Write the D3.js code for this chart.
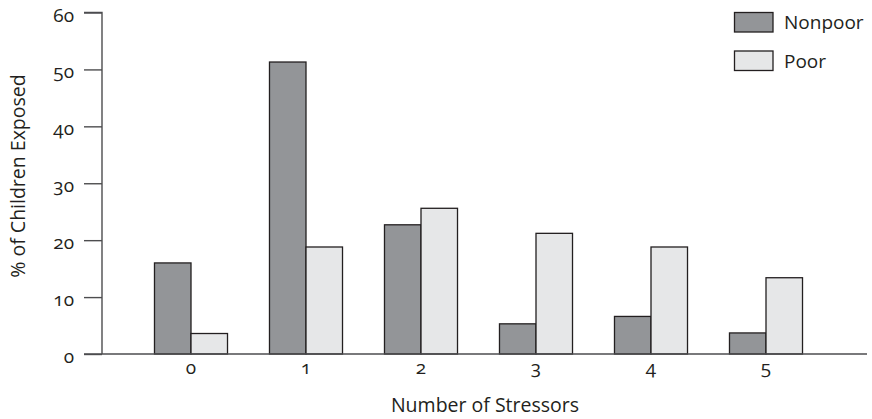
<!DOCTYPE html>
<html><head><meta charset="utf-8">
<script src="https://cdn.jsdelivr.net/npm/d3@7"></script>
<style>
html,body{margin:0;padding:0;background:#fff;}
svg text{font-family:"Open Sans",sans-serif;fill:#231f20;font-feature-settings:"onum" 1;font-variant-numeric:oldstyle-nums;}
</style></head>
<body><svg id="chart" width="872" height="419"></svg>
<script>
const categories = ["0","1","2","3","4","5"];
const seriesNames = ["Nonpoor","Poor"];
const nonpoor = [16.0, 51.3, 22.7, 5.3, 6.6, 3.7];
const poor = [3.6, 18.8, 25.6, 21.2, 18.8, 13.4];
const yTicks = [0,10,20,30,40,50,60];
const colors = {Nonpoor:"#939598", Poor:"#e6e7e8"};

const svg = d3.select("#chart");
const stroke = "#231f20";
const y = d3.scaleLinear().domain([0,60]).range([354,12.5]);
const x0 = d3.scaleBand().domain(categories).range([133.5,823.5]).paddingInner(0.365).paddingOuter(0.1825);
const x1 = d3.scaleBand().domain(seriesNames).range([0,x0.bandwidth()]);

const rows = categories.map((c,i)=>({cat:c, vals:[{s:"Nonpoor",v:nonpoor[i]},{s:"Poor",v:poor[i]}]}));

// bars
const g = svg.append("g");
g.selectAll("g.cat").data(rows).join("g").attr("class","cat")
 .attr("transform",d=>`translate(${x0(d.cat)},0)`)
 .selectAll("rect").data(d=>d.vals).join("rect")
 .attr("x",d=>x1(d.s)).attr("width",x1.bandwidth())
 .attr("y",d=>y(d.v)).attr("height",d=>y(0)-y(d.v))
 .attr("fill",d=>colors[d.s]).attr("stroke",stroke).attr("stroke-width",1.3);

// y axis
const yAxis = d3.axisLeft(y).tickValues(yTicks).tickSize(18).tickPadding(10).tickFormat(d3.format("d"));
const ya = svg.append("g").attr("transform","translate(102,0)").call(yAxis);
ya.select(".domain").attr("d",`M-18,${y(60)}H0V${y(0)}`).attr("stroke","#4d4d4f").attr("stroke-width",1.4);
ya.selectAll(".tick line").attr("stroke","#4d4d4f").attr("stroke-width",1.4);
ya.selectAll(".tick text").attr("font-size",19).attr("dy","0.45em").attr("fill","#231f20").attr("font-family","\"Open Sans\",sans-serif");

// baseline
svg.append("line").attr("x1",84).attr("x2",867).attr("y1",y(0)).attr("y2",y(0)).attr("stroke","#4d4d4f").attr("stroke-width",1.4);

// x axis labels
const xAxis = d3.axisBottom(x0).tickSize(0).tickPadding(6);
const xa = svg.append("g").attr("transform",`translate(0,${y(0)})`).call(xAxis);
xa.select(".domain").remove();
xa.selectAll(".tick text").attr("font-size",19).attr("fill","#231f20").attr("font-family","\"Open Sans\",sans-serif");

// axis titles
svg.append("text").attr("x",485).attr("y",412).attr("text-anchor","middle").attr("font-size",19.5).text("Number of Stressors");
svg.append("text").attr("transform","translate(25,176) rotate(-90)").attr("text-anchor","middle").attr("font-size",19.5).text("% of Children Exposed");

// legend
const leg = svg.append("g");
seriesNames.forEach((s,i)=>{
  const yy = 12.5 + i*38.5;
  leg.append("rect").attr("x",734.5).attr("y",yy).attr("width",38.5).attr("height",19.5)
    .attr("fill",colors[s]).attr("stroke",stroke).attr("stroke-width",1.3);
  leg.append("text").attr("x",784).attr("y",yy+16.5).attr("font-size",19).text(s);
});
</script></body></html>
